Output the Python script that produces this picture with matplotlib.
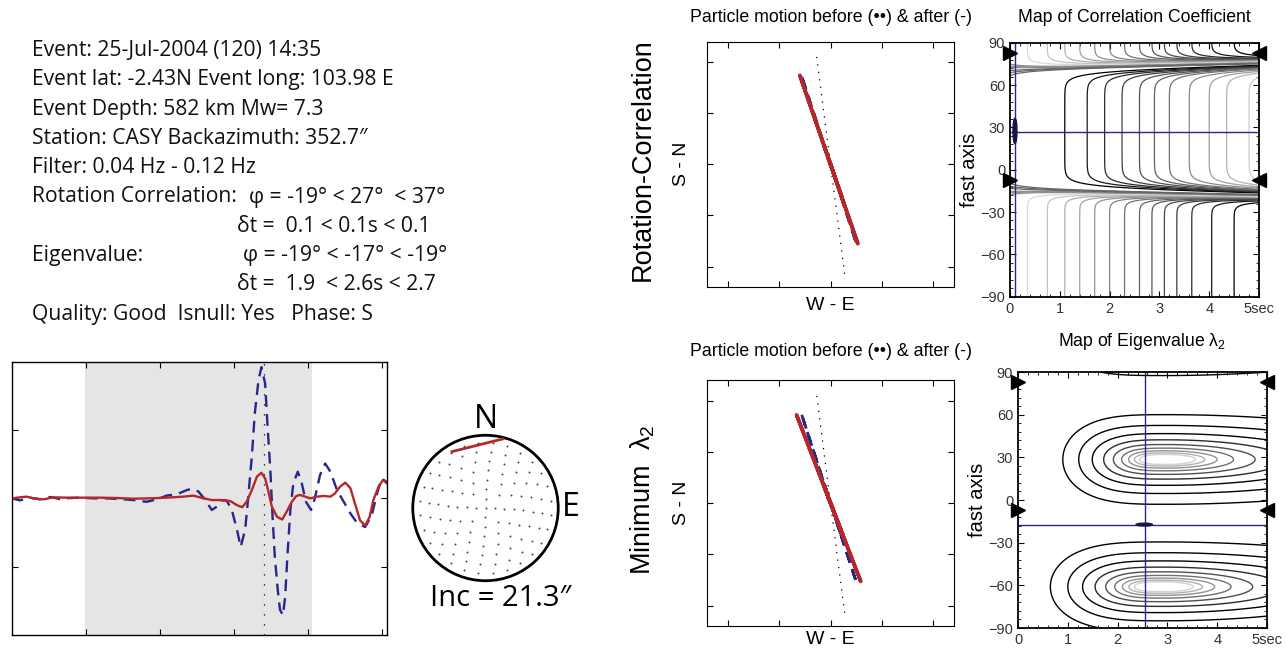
import numpy as np
import matplotlib
matplotlib.use('Agg')
import matplotlib.pyplot as plt
from matplotlib.patches import Ellipse, Circle
from matplotlib.ticker import MultipleLocator, FixedLocator

plt.rcParams['font.family'] = ['Liberation Sans', 'DejaVu Sans']
plt.rcParams['mathtext.fontset'] = 'custom'
plt.rcParams['mathtext.rm'] = 'Liberation Sans'
plt.rcParams['mathtext.it'] = 'Liberation Sans'

# ---------------- data ----------------
info_lines = ["Event: 25-Jul-2004 (120) 14:35",
              "Event lat: -2.43N Event long: 103.98 E",
              "Event Depth: 582 km Mw= 7.3",
              "Station: CASY Backazimuth: 352.7\u2033",
              "Filter: 0.04 Hz - 0.12 Hz",
              "Rotation Correlation:",
              "",
              "Eigenvalue:",
              "",
              "Quality: Good  Isnull: Yes   Phase: S"]
result_lines = ["\u03c6 = -19\u00b0 < 27\u00b0  < 37\u00b0",
                "\u03b4t =  0.1 < 0.1s < 0.1",
                "\u03c6 = -19\u00b0 < -17\u00b0 < -19\u00b0",
                "\u03b4t =  1.9  < 2.6s < 2.7"]

# seismogram (before: dashed blue, after: solid red)
blue_t = [0.00, 0.11, 0.25, 0.38, 0.52, 0.65, 0.79, 0.92, 1.10, 1.28, 1.46, 1.64, 1.82, 1.96,
          2.09, 2.23, 2.36, 2.43, 2.52, 2.61, 2.70, 2.77, 2.83, 2.90, 2.97,
          3.04, 3.09, 3.15, 3.19, 3.24, 3.28, 3.33, 3.37, 3.42, 3.45, 3.49, 3.52, 3.55, 3.59,
          3.62, 3.66, 3.69, 3.72, 3.76, 3.80, 3.86, 3.91, 3.97,
          4.04, 4.09, 4.16, 4.23, 4.30, 4.39, 4.48, 4.57, 4.66, 4.77, 4.86, 4.93, 4.99, 5.06]
blue_a = [0.00, -0.03, 0.01, -0.015, 0.02, -0.01, 0.005, 0.01, 0.0, 0.0, -0.01, -0.025, -0.05, -0.015,
          0.04, 0.06, 0.12, 0.14, 0.10, -0.02, -0.17, -0.12, -0.03, -0.03, -0.17,
          -0.46, -0.71, -0.46, 0.0, 0.61, 1.24, 1.73, 1.92, 1.68, 1.10, 0.41, -0.27, -0.85, -1.34,
          -1.63, -1.71, -1.44, -0.85, -0.17, 0.22, 0.39, 0.24, -0.05,
          -0.17, 0.0, 0.34, 0.51, 0.39, 0.12, -0.05, -0.22, -0.36, -0.42, -0.24, 0.07, 0.29, 0.24]
red_t = [0.00, 0.11, 0.20, 0.29, 0.43, 0.56, 0.74, 0.97, 1.19, 1.42, 1.64, 1.87, 2.09, 2.32, 2.45,
         2.59, 2.70, 2.83, 2.95, 3.04, 3.11, 3.17, 3.24, 3.31, 3.37, 3.42, 3.46, 3.51, 3.58, 3.65,
         3.71, 3.78, 3.84, 3.89, 3.96, 4.03, 4.12, 4.21, 4.30, 4.36, 4.43, 4.50, 4.57, 4.63, 4.70,
         4.77, 4.83, 4.88, 4.95, 5.01, 5.06]
red_a = [0.0, 0.015, 0.025, 0.0, -0.015, 0.015, 0.01, 0.01, 0.01, 0.005, -0.005, 0.0, 0.01, 0.025, 0.04,
         0.0, -0.025, -0.025, -0.04, -0.10, -0.13, -0.05, 0.12, 0.32, 0.375, 0.29, 0.12, -0.12, -0.27, -0.31,
         -0.195, -0.05, 0.035, 0.05, 0.025, 0.0, 0.025, 0.035, 0.025, 0.07, 0.17, 0.23, 0.15, -0.07, -0.32,
         -0.40, -0.27, -0.025, 0.17, 0.27, 0.22]
window = [0.99, 4.05]
pick_time = 3.40

backazimuth = 352.7
inc_text = "Inc = 21.3\u2033"
# particle motion polarisation directions (deg from N) and amplitude scale
pm_dir_rc = {'before': -18.0, 'after': -18.9}
pm_dir_ev = {'before': -18.0, 'after': -21.0}
pm_scale = 0.48

# stereonet fast-axis segment
stereo_seg_r, stereo_seg_az, stereo_seg_half = 0.87, 76.0, 0.38
stereo_ring_r = [0.0, 0.13, 0.26, 0.39, 0.52, 0.65, 0.78, 0.9]
stereo_ring_n = [1, 4, 8, 12, 16, 20, 24, 28]

# rotation-correlation result
rc_phi, rc_dt = 27.0, 0.1
rc_err_phi = [18.5, 36.5]
rc_band_lo = [-14.5, -18.0]   # discontinuity phi at dt=0 and dt=5
rc_band_hi = [71.5, 75.5]
rc_mid_levels = [1.1, 1.55, 1.9, 2.25, 2.6, 2.9, 3.2, 3.6, 4.0, 4.35, 4.8]
rc_out_levels = [0.35, 0.75, 1.1, 1.4, 1.7, 2.0, 2.3, 2.6, 2.85, 3.1, 3.35, 3.65, 4.05, 4.5]
rc_band_levels = [0.15, 0.3, 0.45]

# eigenvalue result
ev_phi, ev_dt = -17.3, 2.55
ev_err_dt = [2.37, 2.70]
ev_lobe_dt = [3.0, 2.95]        # lobe centres (delay)
ev_lobe_phi = [28.5, -61.0]     # lobe centres (fast axis)
ev_lobe_left = [2.1, 2.3]       # outer contour reach to the left of centre
ev_lobe_half = [31.5, 31.5]     # outer contour half height
ev_nlev = 9

null_phi = [backazimuth - 270, backazimuth - 360]

# ---------------- figure ----------------
W, H = 1287, 649
fig = plt.figure(figsize=(W / 100, H / 100), dpi=100)


def box(l, t, r, b):
    return fig.add_axes([l / W, 1 - b / H, (r - l) / W, (b - t) / H])


def ftext(x, y, s, **kw):
    return fig.text(x / W, 1 - y / H, s, **kw)


LFONT = ['Open Sans', 'DejaVu Sans']
row_y = [51, 80, 109, 138, 167, 197, 226, 256, 285, 314]
for y, s in zip(row_y, info_lines):
    if s:
        ftext(32, y, s, fontsize=15.2, family=LFONT, va='center', ha='left', color='#111')
for (x, y), s in zip([(249, 197), (237, 226), (243, 256), (237, 285)], result_lines):
    ftext(x, y, s, fontsize=15.2, family=LFONT, va='center', ha='left', color='#111')

BLUE = '#27278a'
RED = '#b5282a'

# seismogram
ax = box(11.7, 361.7, 386.7, 635)
ax.axvspan(window[0], window[1], color='#e5e5e5', lw=0, zorder=0)
ax.axvline(pick_time, color='k', ls=(0, (1, 7)), lw=0.9)
ax.plot(blue_t, blue_a, color=BLUE, ls=(0, (5, 3)), lw=1.7)
ax.plot(red_t, red_a, color=RED, lw=1.7)
ax.set_xlim(0, 5.06)
ax.set_ylim(-2, 2)
ax.xaxis.set_major_locator(FixedLocator([1, 2, 3, 4, 5]))
ax.yaxis.set_major_locator(FixedLocator([-1, 0, 1]))
ax.tick_params(direction='in', length=4, top=True, right=True, labelbottom=False, labelleft=False)
for sp in ax.spines.values():
    sp.set_linewidth(1.0)

# stereonet
ax = box(405.5, 428, 565.5, 588)
ax.set_xlim(-1.1, 1.1)
ax.set_ylim(-1.1, 1.1)
ax.set_aspect('equal')
ax.axis('off')
ax.add_patch(Circle((0, 0), 1, fill=False, lw=2.0, color='k'))
for r, n in zip(stereo_ring_r, stereo_ring_n):
    a = np.deg2rad(np.arange(n) * 360.0 / n + 7 * r)
    ax.scatter(r * np.sin(a), r * np.cos(a), s=2.0, color='#444', lw=0)
cb = np.deg2rad(backazimuth)
cx, cy = stereo_seg_r * np.sin(cb), stereo_seg_r * np.cos(cb)
sa = np.deg2rad(stereo_seg_az)
dx, dy = stereo_seg_half * np.sin(sa), stereo_seg_half * np.cos(sa)
ax.plot([cx - dx, cx + dx], [cy - dy, cy + dy], color=RED, lw=2.0, solid_capstyle='butt')
ftext(486, 419, "N", fontsize=23, family=LFONT, ha='center', va='center')
ftext(571, 508, "E", fontsize=23, family=LFONT, ha='center', va='center')
ftext(501, 598, inc_text, fontsize=21, family=LFONT, ha='center', va='center')

# particle motion panels
wmask = (np.array(blue_t) >= window[0]) & (np.array(blue_t) <= window[1])
amp = pm_scale * np.array(blue_a)[wmask]


def particle(top, bottom, dirs):
    ax = box(707, top, 954, bottom)
    bz = np.deg2rad(backazimuth)
    ax.plot([-1.08 * np.sin(bz), 1.08 * np.sin(bz)], [-1.08 * np.cos(bz), 1.08 * np.cos(bz)],
            color='k', ls=(0, (1, 5)), lw=0.9)
    d = np.deg2rad(dirs['before'])
    ax.plot(amp * np.sin(d), amp * np.cos(d), color=BLUE, ls=(0, (4, 2.5)), lw=2.0)
    d = np.deg2rad(dirs['after'])
    ax.plot(amp * np.sin(d), amp * np.cos(d), color=RED, lw=2.6)
    ax.set_xlim(-1.2, 1.2)
    ax.set_ylim(-1.2, 1.2)
    ticks = [-1, -0.5, 0, 0.5, 1]
    ax.xaxis.set_major_locator(FixedLocator(ticks))
    ax.yaxis.set_major_locator(FixedLocator(ticks))
    ax.tick_params(direction='in', length=4, top=True, right=True, labelbottom=False, labelleft=False)
    return ax


particle(41.7, 287, pm_dir_rc)
particle(380, 626, pm_dir_ev)
ftext(830.5, 18, "Particle motion before (\u2022\u2022) & after (-)", fontsize=12.8, ha='center', va='center')
ftext(830.5, 352, "Particle motion before (\u2022\u2022) & after (-)", fontsize=12.8, ha='center', va='center')
for y in (164, 503):
    ftext(681, y, "S - N", fontsize=14, rotation=90, ha='center', va='center')
ftext(830.5, 305, "W - E", fontsize=14, ha='center', va='center')
ftext(830.5, 640, "W - E", fontsize=14, ha='center', va='center')
ftext(643, 160, "Rotation-Correlation", fontsize=19.5, rotation=90, ha='center', va='center')
ftext(643, 500, "Minimum  $\\lambda_2$", fontsize=19.5, rotation=90, ha='center', va='center')

# grids for maps
dt_grid = np.linspace(0, 5, 301)
phi_grid = np.linspace(-90, 90, 721)
T, P = np.meshgrid(dt_grid, phi_grid)


def map_axes(l, t, r, b):
    ax = box(l, t, r, b)
    ax.set_xlim(0, 5)
    ax.set_ylim(-90, 90)
    ax.xaxis.set_major_locator(FixedLocator([0, 1, 2, 3, 4, 5]))
    ax.set_xticklabels(['0', '1', '2', '3', '4', '5sec'])
    ax.yaxis.set_major_locator(FixedLocator([-90, -60, -30, 0, 30, 60, 90]))
    ax.xaxis.set_minor_locator(MultipleLocator(0.2))
    ax.yaxis.set_minor_locator(MultipleLocator(6))
    ax.tick_params(which='both', direction='in', top=True, right=True, labelsize=10.5,
                   labelcolor='#333333')
    ax.tick_params(which='major', length=4)
    ax.tick_params(which='minor', length=2)
    for sp in ax.spines.values():
        sp.set_linewidth(1.3)
    ax.set_ylabel('fast axis', fontsize=14.5, labelpad=1)
    for ph in null_phi:
        ax.plot([0.0], [ph], marker='>', ms=10, color='k', clip_on=False, zorder=5)
        ax.plot([5.0], [ph], marker='<', ms=10, color='k', clip_on=False, zorder=5)
    return ax


# correlation coefficient map
ax = map_axes(1010, 42.7, 1259, 296.7)
b1 = rc_band_lo[0] + (rc_band_lo[1] - rc_band_lo[0]) * T / 5
b2 = rc_band_hi[0] + (rc_band_hi[1] - rc_band_hi[0]) * T / 5
inside = (P > b1) & (P < b2)
d_in = np.minimum(P - b1, b2 - P)
d_out = np.minimum(np.abs(P - b1), np.abs(P - b2))
d_out = np.minimum(d_out, np.minimum(np.abs(P + 180 - b2), np.abs(P - 180 - b1)))
S = np.where(inside, np.tanh(d_in / 5.0), -np.tanh(d_out / 3.5))
off = 0.6
F = S * (T + off)
lev, cols = [], []
for v in rc_out_levels[::-1]:
    lev.append(-(v + off))
    cols.append(str(round(0.85 * (1 - (v - 0.35) / (4.5 - 0.35)), 3)))
for v in rc_band_levels[::-1]:
    lev.append(-v)
    cols.append('0.55')
for v in rc_band_levels:
    lev.append(v)
    cols.append('0.4')
for v in rc_mid_levels:
    lev.append(v + off)
    cols.append(str(round(0.8 * (v - 1.1) / (4.8 - 1.1), 3)))
ax.contour(T, P, F, levels=lev, colors=cols, linewidths=0.9)
ax.axvline(rc_dt, color=BLUE, lw=1.0)
ax.axhline(rc_phi, color=BLUE, lw=1.0)
ax.add_patch(Ellipse((rc_dt, np.mean(rc_err_phi)), 0.08, rc_err_phi[1] - rc_err_phi[0],
                     color='#15154a', zorder=4))
ftext(1134.5, 18, "Map of Correlation Coefficient", fontsize=12.7, ha='center', va='center')

# eigenvalue map
ax = map_axes(1018, 372, 1267, 628)
Ds = []
for cdt, cph, sl, sh in zip(ev_lobe_dt, ev_lobe_phi, ev_lobe_left, ev_lobe_half):
    x = T - cdt
    dterm = np.where(x < 0, (np.abs(x) / sl) ** 3.33, 0.0369 * np.abs(x) ** 1.94)
    for shift in (-180, 0, 180):
        u = P - cph - shift
        Ds.append(dterm + (u / sh) ** 2)
D = np.min(Ds, axis=0)
FE = -np.log(D + 1e-12)
elev = 0.55 * np.arange(ev_nlev)
ecols = [str(round(0.82 * max(0, (k - 2) / (ev_nlev - 3)) ** 0.9, 3)) for k in range(ev_nlev)]
ax.contour(T, P, FE, levels=elev, colors=ecols, linewidths=1.0)
ax.axvline(ev_dt, color=BLUE, lw=1.0)
ax.axhline(ev_phi, color=BLUE, lw=1.0)
ax.add_patch(Ellipse((np.mean(ev_err_dt), ev_phi), ev_err_dt[1] - ev_err_dt[0], 2.0,
                     color='#15154a', zorder=4))
ftext(1142, 342, "Map of Eigenvalue \u03bb$_2$", fontsize=12.7, ha='center', va='center')

fig.savefig('out.png', dpi=100)
